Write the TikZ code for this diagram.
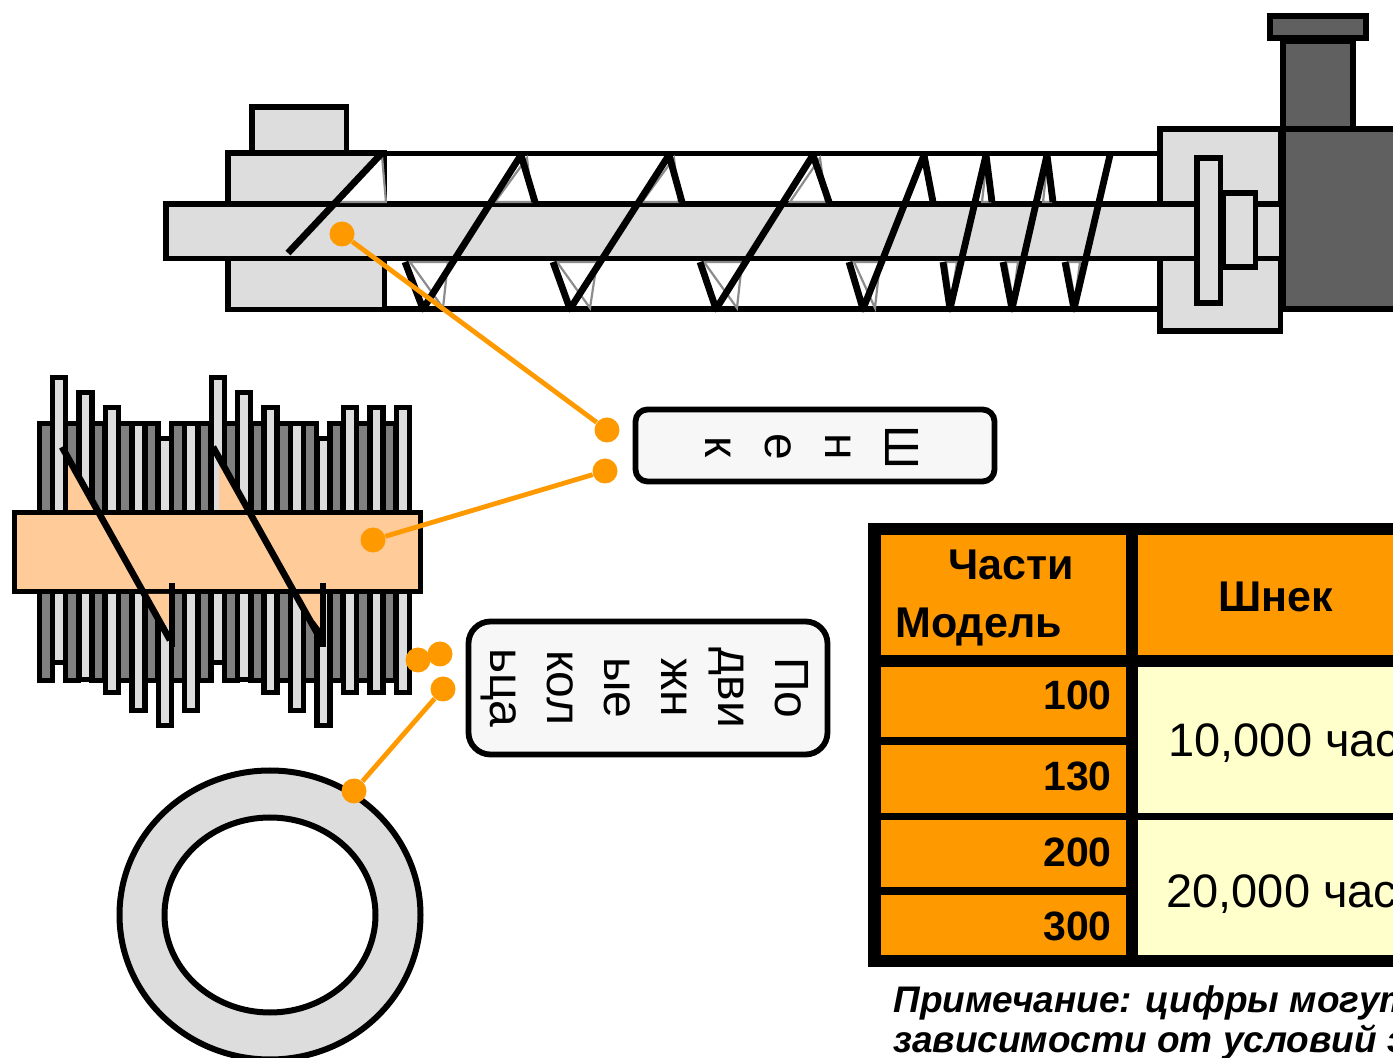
\documentclass[tikz,border=0pt]{standalone}
\usepackage{fontspec}
\setmainfont{Liberation Sans}
\definecolor{lgray}{HTML}{DDDDDD}
\definecolor{dgray}{HTML}{606060}
\definecolor{mgray}{HTML}{808080}
\definecolor{tgray}{HTML}{8C8C8C}
\definecolor{peach}{HTML}{FFCC99}
\definecolor{orng}{HTML}{FF9900}
\definecolor{boxfill}{HTML}{F7F7F7}
\definecolor{cream}{HTML}{FFFFCC}
\begin{document}
\begin{tikzpicture}[x=0.5pt,y=-0.5pt,
  part/.style={draw=black,line width=2.9pt,fill=lgray},
  darkpart/.style={draw=black,line width=2.9pt,fill=dgray},
  flight/.style={draw=black,line width=3.4pt,line join=round},
  bladetri/.style={draw=tgray,line width=1.1pt,fill=white},
  ringd/.style={draw=black,line width=2.7pt,fill=mgray},
  ringl/.style={draw=black,line width=2.7pt,fill=lgray},
  blk/.style={draw=black,line width=3.3pt},
  conn/.style={draw=orng,line width=2.4pt},
  dot/.style={circle,fill=orng,inner sep=0pt,minimum size=12.5pt},
  labelbox/.style={draw=black,line width=2.9pt,fill=boxfill},
  hdr/.style={font=\fontsize{21.5}{24}\selectfont\bfseries,inner sep=0pt},
  num/.style={font=\fontsize{20.5}{24}\selectfont\bfseries,inner sep=0pt,anchor=base east},
  val/.style={font=\fontsize{23.5}{26}\selectfont,inner sep=0pt,anchor=base west},
  note/.style={font=\fontsize{18.5}{22}\selectfont\bfseries\itshape,inner sep=0pt,anchor=base west}
]
\useasboundingbox (0,0) rectangle (1393,1058);
\clip (0,0) rectangle (1393,1058);

% ---------------- screw assembly ----------------
\draw[line width=2.9pt,fill=white] (380,153.5) rectangle (1162,309);
\draw[part] (1160,129) rectangle (1280.5,331);
\draw[part] (228,153) rectangle (384.5,309.5);
\draw[part] (252,107) rectangle (346.5,153);
\draw[part] (166,204) rectangle (1282,258.5);

% blade triangles
\foreach \p in {
  {(335,202)--(382,156)--(386,202)},
  {(495,202)--(527,158)--(532,202)},
  {(410,262)--(448,262)--(443,308)},
  {(642,202)--(674,158)--(679,202)},
  {(557,262)--(597,262)--(590,308)},
  {(790,202)--(820,158)--(826,202)},
  {(704,262)--(742,262)--(737,308)},
  {(854,262)--(880,262)--(875,308)},
  {(982,202)--(986,166)--(990,202)},
  {(946,262)--(957,262)--(951,300)},
  {(1043,202)--(1047,166)--(1051,202)},
  {(1006,262)--(1018,262)--(1013,300)},
  {(1068,262)--(1080,262)--(1075,300)}}
  {\draw[bladetri] \p -- cycle;}

% flights
\draw[flight] (288,253)--(382,153);
\draw[flight] (405,262)--(423,309)--(521,155)--(535,202);
\draw[flight] (553,262)--(570,309)--(669,155)--(682,202);
\draw[flight] (700,262)--(716,309)--(813,155)--(829,202);
\draw[flight] (849,262)--(863,309)--(924,155)--(933,202);
\draw[flight] (943,262)--(950,309)--(986,155)--(992,202);
\draw[flight] (1003,262)--(1012,309)--(1047,155)--(1053,202);
\draw[flight] (1065,262)--(1074,309)--(1110,155);

% bearing parts
\draw[part] (1197,158) rectangle (1220.5,303);
\draw[part] (1223,193) rectangle (1255.5,267);

% motor
\draw[darkpart] (1283,129) rectangle (1410,309);
\draw[darkpart] (1283,41) rectangle (1353,129);
\draw[darkpart] (1270,16) rectangle (1366,38);

% ---------------- shredder ----------------
\foreach \i in {0,...,13}{
  \pgfmathsetmacro\c{45.7+26.45*\i}
  \draw[ringd] (\c-6.5,423.5) rectangle (\c+6.5,680.5);
}
\foreach \i/\t/\b in {0/375/665,1/390/682,2/405/695,3/421/713,4/436/728,5/421/713,6/375/665,7/390/682,8/405/695,9/421/713,10/436/728,11/405/695,12/405/695,13/405/695}{
  \pgfmathsetmacro\c{59+26.45*\i}
  \draw[ringl] (\c-6.5,\t+2.5) rectangle (\c+6.5,\b-2.5);
}
\draw[line width=2.9pt,fill=peach] (14.5,512.5) rectangle (420.5,591.5);
\foreach \s in {0,151}{
  \fill[peach] (68+\s,456)--(68+\s,510)--(99+\s,510)--cycle;
  \fill[peach] (143+\s,594)--(172+\s,594)--(172+\s,632)--cycle;
  \draw[blk] (62+\s,447)--(170+\s,640);
  \draw[blk] (172+\s,583)--(172+\s,647);
}

% ---------------- ring ----------------
\draw[part,line width=3pt,even odd rule] (270,915) ellipse [x radius=150.5,y radius=144.5]
  (270,915) ellipse [x radius=105.5,y radius=97.5];

% ---------------- labels ----------------
\node[labelbox,rounded corners=6pt,minimum width=179.5pt,minimum height=36pt] (lab1) at (815,445.5) {};
\node[rotate=-90,align=center,inner sep=0pt,font=\fontsize{24}{30}\selectfont] (lab1t) at (812,447) {Ш\\н\\е\\к};
\node[labelbox,rounded corners=11pt,minimum width=179.5pt,minimum height=66.5pt] (lab2) at (648,688) {};
\node[rotate=-90,align=center,inner sep=0pt,font=\fontsize{24}{28.5}\selectfont] (lab2t) at (645,688) {По\\дви\\жн\\ые\\кол\\ьца};

% connectors
\node[dot] (s1) at (342,234) {};
\node[dot] (l1a) at (607,430) {};
\node[dot] (s2) at (373,540) {};
\node[dot] (l1b) at (605,471) {};
\node[dot] (s3) at (418,660) {};
\node[dot] (l2a) at (440,654) {};
\node[dot] (l2b) at (443,689) {};
\node[dot] (s4) at (354,791) {};
\draw[conn] (s1)--(l1a);
\draw[conn] (s2)--(l1b);
\draw[conn] (s3)--(l2a);
\draw[conn] (l2b)--(s4);

% ---------------- table ----------------
\fill[black] (868,523) rectangle (1420,967);
\fill[orng] (881,535) rectangle (1126,655);
\fill[orng] (1138,535) rectangle (1420,655);
\fill[orng] (881,667) rectangle (1126,737);
\fill[orng] (881,745) rectangle (1126,813);
\fill[orng] (881,820) rectangle (1126,887);
\fill[orng] (881,895) rectangle (1126,955);
\fill[cream] (1138,667) rectangle (1420,813);
\fill[cream] (1138,820) rectangle (1420,955);
\node[hdr,anchor=base] (h1) at (1011,580) {Части};
\node[hdr,anchor=base west] (h2) at (895,638) {Модель};
\node[hdr,anchor=base] (h3) at (1276,612) {Шнек};
\node[num] (n1) at (1112,710) {100};
\node[num] (n2) at (1112,791) {130};
\node[num] (n3) at (1112,866) {200};
\node[num] (n4) at (1112,940) {300};
\node[val] (v1) at (1168,757) {10,000 часов};
\node[val] (v2) at (1166,907) {20,000 часов};

% note
\node[note] (nt1) at (893,1012) {Примечание: цифры могут меняться в};
\node[note] (nt2) at (893,1052) {зависимости от условий эксплуатации.};
\end{tikzpicture}
\end{document}
